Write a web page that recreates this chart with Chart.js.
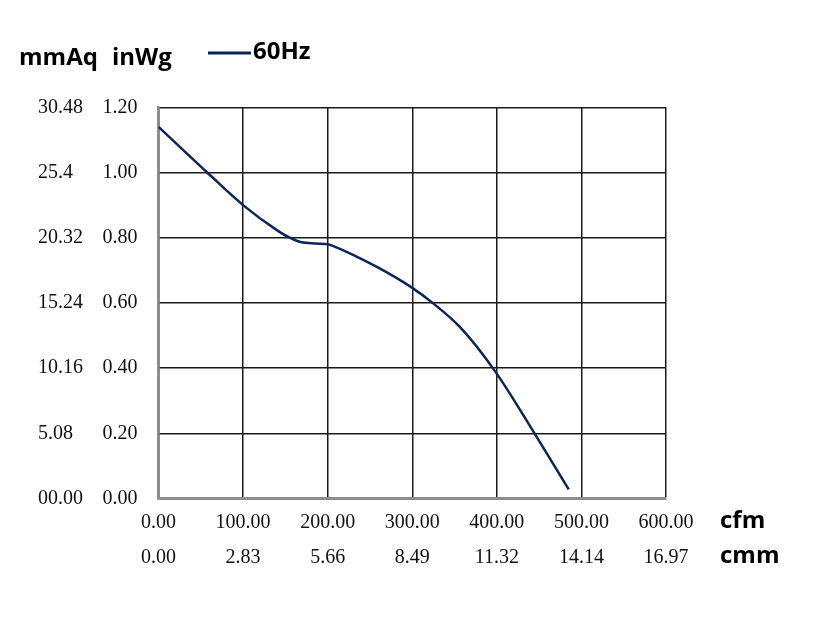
<!DOCTYPE html>
<html>
<head>
<meta charset="utf-8">
<script src="https://cdn.jsdelivr.net/npm/chart.js@4.4.1/dist/chart.umd.min.js"></script>
<style>
  body { margin: 0; background: #fff; }
  canvas { display: block; }
</style>
</head>
<body>
<canvas id="grafica" width="828" height="638"></canvas>
<script>
// curva 60Hz (cfm, inWg)
var caudalCfm = [0, 57.6, 100, 139.5, 155, 171, 200, 206, 257.6, 300, 324, 356, 398, 444.5, 485];
var presionInWg = [1.14, 1.00, 0.90, 0.824, 0.80, 0.785, 0.78, 0.775, 0.711, 0.646, 0.60, 0.527, 0.39, 0.20, 0.028];

var etiquetasInWg = ['0.00', '0.20', '0.40', '0.60', '0.80', '1.00', '1.20'];
var etiquetasMmAq = ['00.00', '5.08', '10.16', '15.24', '20.32', '25.4', '30.48'];
var etiquetasCfm = ['0.00', '100.00', '200.00', '300.00', '400.00', '500.00', '600.00'];
var etiquetasCmm = ['0.00', '2.83', '5.66', '8.49', '11.32', '14.14', '16.97'];

var colorCurva = '#0c2557';
var fuenteNum = 'Liberation Serif';
var fuenteTitulo = 'Open Sans';

var puntos = [];
for (var i = 0; i < caudalCfm.length; i++) {
  puntos.push({ x: caudalCfm[i], y: presionInWg[i] });
}

// textos de unidades y leyenda
const textos = {
  id: 'textos',
  beforeDraw(chart) {
    const ctx = chart.ctx;
    ctx.save();
    ctx.fillStyle = '#fff';
    ctx.fillRect(0, 0, chart.width, chart.height);
    ctx.restore();
  },
  afterDraw(chart) {
    const ctx = chart.ctx;
    ctx.save();
    ctx.fillStyle = '#000';
    ctx.textBaseline = 'alphabetic';
    ctx.textAlign = 'left';
    ctx.font = 'bold 24px "' + fuenteTitulo + '"';
    ctx.fillText('mmAq', 19, 65);
    ctx.fillText('inWg', 112, 65);
    ctx.fillText('60Hz', 253, 59);
    ctx.fillText('cfm', 720, 528);
    ctx.fillText('cmm', 720, 563);
    ctx.strokeStyle = colorCurva;
    ctx.lineWidth = 3;
    ctx.beginPath();
    ctx.moveTo(208, 53);
    ctx.lineTo(251, 53);
    ctx.stroke();
    ctx.restore();
  }
};

new Chart(document.getElementById('grafica').getContext('2d'), {
  type: 'line',
  data: {
    datasets: [{
      label: '60Hz',
      data: puntos,
      borderColor: colorCurva,
      borderWidth: 2.5,
      pointRadius: 0,
      fill: false,
      cubicInterpolationMode: 'monotone'
    }]
  },
  options: {
    responsive: false,
    animation: false,
    devicePixelRatio: 1,
    layout: {
      padding: { left: 38, right: 162, top: 107.3, bottom: 64.5 }
    },
    plugins: {
      legend: { display: false },
      tooltip: { enabled: false }
    },
    scales: {
      x: {
        type: 'linear',
        position: 'bottom',
        weight: 0,
        min: 0,
        max: 600,
        afterFit: function(s) { s.height = 35; },
        grid: { color: '#1a1a1a', lineWidth: 1.5, drawTicks: false },
        border: { color: '#8c8c8c', width: 2.5 },
        ticks: {
          stepSize: 100,
          padding: 12,
          color: '#111',
          maxRotation: 0,
          font: { family: fuenteNum, size: 20 },
          callback: function(v, idx) { return etiquetasCfm[idx]; }
        }
      },
      x2: {
        type: 'linear',
        position: 'bottom',
        weight: 1,
        min: 0,
        max: 600,
        afterFit: function(s) { s.height = 40; },
        grid: { display: false },
        border: { display: false },
        ticks: {
          stepSize: 100,
          padding: 4.5,
          color: '#111',
          maxRotation: 0,
          font: { family: fuenteNum, size: 20 },
          callback: function(v, idx) { return etiquetasCmm[idx]; }
        }
      },
      y2: {
        type: 'linear',
        position: 'left',
        weight: 1,
        min: 0,
        max: 1.2,
        afterFit: function(s) { s.width = 55; },
        grid: { display: false },
        border: { display: false },
        ticks: {
          stepSize: 0.2,
          crossAlign: 'far',
          color: '#111',
          font: { family: fuenteNum, size: 20 },
          callback: function(v, idx) { return etiquetasMmAq[idx]; }
        }
      },
      y: {
        type: 'linear',
        position: 'left',
        weight: 0,
        min: 0,
        max: 1.2,
        afterFit: function(s) { s.width = 65.5; },
        grid: { color: '#1a1a1a', lineWidth: 1.5, drawTicks: false },
        border: { color: '#8c8c8c', width: 2.5 },
        ticks: {
          stepSize: 0.2,
          padding: 21,
          color: '#111',
          font: { family: fuenteNum, size: 20 },
          callback: function(v, idx) { return etiquetasInWg[idx]; }
        }
      }
    }
  },
  plugins: [textos]
});
</script>
</body>
</html>
